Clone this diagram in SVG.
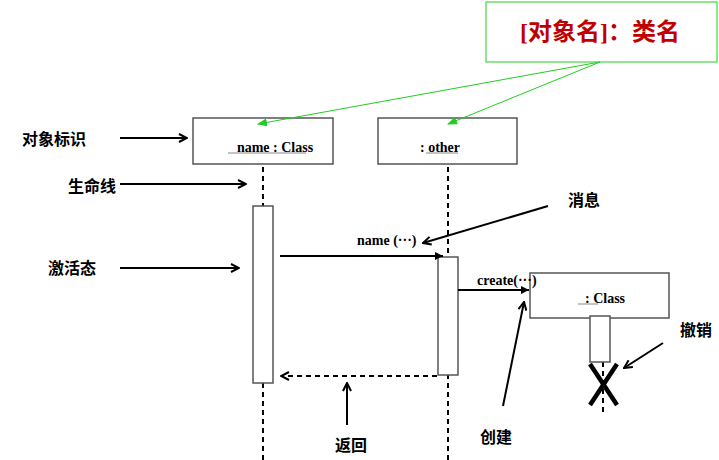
<svg xmlns="http://www.w3.org/2000/svg" width="719" height="460" viewBox="0 0 719 460">
<defs>
<marker id="a" markerWidth="10" markerHeight="10" refX="9" refY="5" orient="auto" markerUnits="userSpaceOnUse"><path d="M1,1 L9,5 L1,9" fill="none" stroke="#000" stroke-width="2"/></marker>
<marker id="f" markerWidth="8" markerHeight="8" refX="8" refY="4" orient="auto" markerUnits="userSpaceOnUse"><path d="M0,0 L8,4 L0,8 Z" fill="#000"/></marker>
<marker id="g" markerWidth="10" markerHeight="8" refX="9" refY="4" orient="auto" markerUnits="userSpaceOnUse"><path d="M0,0 L10,4 L0,8 Z" fill="#2c2"/></marker>
</defs>
<style>
.box{fill:#fff;stroke:#555;stroke-width:1.5}
.t{font-family:"Liberation Serif","Noto Sans CJK SC",serif;font-weight:bold;font-size:14px;fill:#000}
.c{font-family:"Liberation Serif","Noto Sans CJK SC",serif;font-weight:bold;font-size:16px;fill:#000}
.ln{stroke:#000;stroke-width:2;fill:none}
.ds{stroke:#000;stroke-width:2;stroke-dasharray:5,4;fill:none}
</style>
<rect width="719" height="460" fill="#fff"/>
<g id="title"><rect x="486" y="2" width="231" height="60" fill="#fff" stroke="#2c2" stroke-width="1"/>
<text x="600" y="40" text-anchor="middle" font-family="'Liberation Serif','Noto Sans CJK SC',serif" font-weight="bold" font-size="24" fill="#c00000">[对象名]：类名</text></g>
<g id="obj1"><rect class="box" x="193" y="118" width="140" height="46"/><text class="t" x="275" y="152" text-anchor="middle">name : Class</text><line x1="228" y1="153" x2="306" y2="153" stroke="#888"/></g>
<g id="obj2"><rect class="box" x="378" y="118" width="139" height="46"/><text class="t" x="440" y="152" text-anchor="middle">:  other</text><line x1="426" y1="153" x2="458" y2="153" stroke="#888"/></g>
<g id="obj3"><rect class="box" x="530" y="273" width="139" height="45"/><text class="t" x="605" y="303" text-anchor="middle">: Class</text><line x1="578" y1="304" x2="598" y2="304" stroke="#888"/></g>
<g id="lifelines">
<line class="ds" x1="263" y1="167" x2="263" y2="460"/>
<line class="ds" x1="448" y1="167" x2="448" y2="460"/>
<line class="ds" x1="603" y1="362" x2="603" y2="416"/>
</g>
<g id="act1"><rect class="box" x="253" y="206" width="20" height="177"/></g>
<g id="act2"><rect class="box" x="438" y="257" width="20" height="118"/></g>
<g id="act3"><rect class="box" x="590" y="316" width="20" height="46"/></g>
<g id="destroy"><line x1="590" y1="364" x2="617" y2="405" stroke="#000" stroke-width="4.5"/><line x1="617" y1="364" x2="590" y2="405" stroke="#000" stroke-width="4.5"/></g>
<g id="labels">
<text class="c" x="22" y="145">对象标识</text>
<text class="c" x="68" y="192">生命线</text>
<text class="c" x="48" y="274">激活态</text>
<text class="c" x="568" y="206">消息</text>
<text class="c" x="335" y="451">返回</text>
<text class="c" x="480" y="443">创建</text>
<text class="c" x="680" y="336">撤销</text>
<text class="t" x="357" y="245">name (···)</text>
<text class="t" x="477" y="285">create(···)</text>
</g>
<g id="connectors">
<line x1="600" y1="62" x2="258" y2="124" stroke="#2c2" stroke-width="1" marker-end="url(#g)"/>
<line x1="600" y1="62" x2="448" y2="124" stroke="#2c2" stroke-width="1" marker-end="url(#g)"/>
<line class="ln" x1="120" y1="138" x2="187" y2="138" marker-end="url(#a)"/>
<line class="ln" x1="120" y1="184" x2="246" y2="184" marker-end="url(#a)"/>
<line class="ln" x1="120" y1="268" x2="239" y2="268" marker-end="url(#a)"/>
<line class="ln" x1="548" y1="206" x2="423" y2="243" marker-end="url(#a)"/>
<line class="ln" x1="347" y1="425" x2="347" y2="383" marker-end="url(#a)"/>
<line class="ln" x1="503" y1="406" x2="524" y2="302" marker-end="url(#a)"/>
<line class="ln" x1="663" y1="343" x2="624" y2="368" marker-end="url(#a)"/>
<line class="ln" x1="280" y1="256" x2="443" y2="256" marker-end="url(#f)"/>
<line class="ln" x1="458" y1="290" x2="529" y2="290" marker-end="url(#f)"/>
<line class="ds" x1="437" y1="376" x2="281" y2="376" marker-end="url(#a)"/>
</g>
</svg>
